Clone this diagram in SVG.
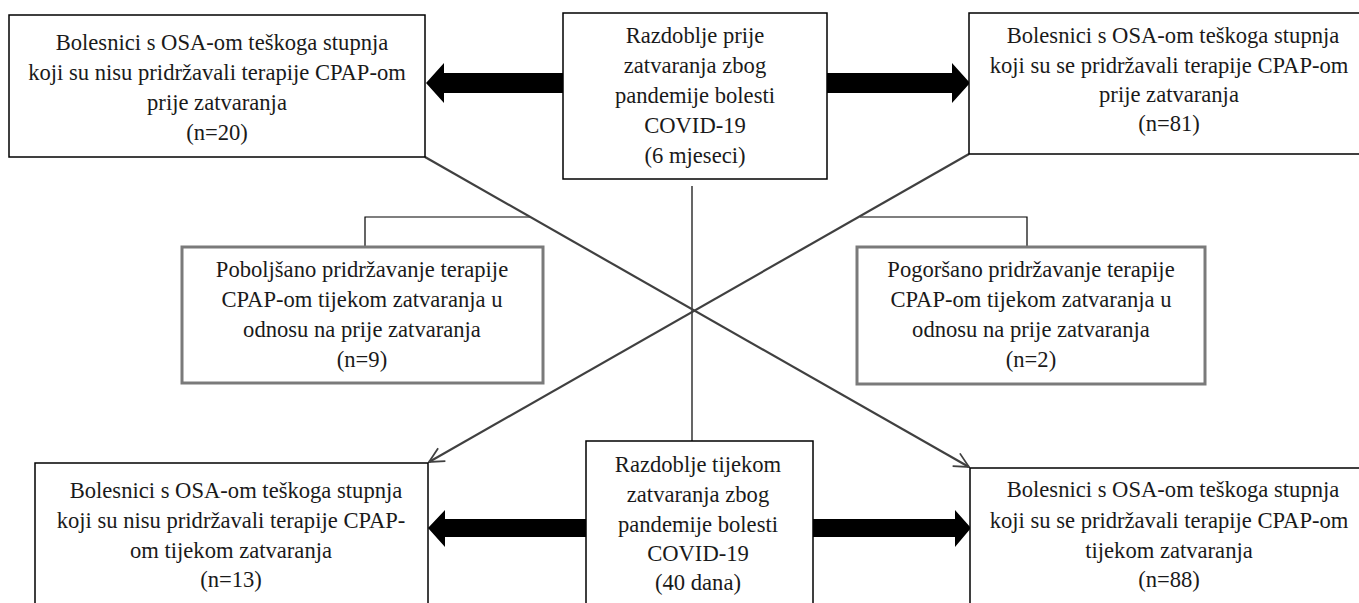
<svg xmlns="http://www.w3.org/2000/svg" width="1359" height="603" viewBox="0 0 1359 603" font-family="'Liberation Serif', 'Times New Roman', 'DejaVu Serif', serif">
<style>
.box{fill:#fff;stroke:#000;stroke-width:1.5}
.gbox{fill:#fff;stroke:#7a7a7a;stroke-width:3}
text{font-family:'Liberation Serif','Times New Roman','DejaVu Serif',serif;font-size:22.6px;fill:#1a1a1a;text-anchor:middle}
.thin{stroke:#000;stroke-width:1.2;fill:none}
.diag{stroke:#404040;stroke-width:2.2;fill:none;marker-end:url(#open)}
.thick{fill:#000}
</style>
<defs>
<marker id="open" viewBox="0 0 12 12" refX="11" refY="6" markerWidth="8" markerHeight="8" markerUnits="strokeWidth" orient="auto">
<path d="M1,1 L11,6 L1,11" fill="none" stroke="#404040" stroke-width="1.2"/>
</marker>
</defs>
<g id="connectors">
<line class="thin" x1="692" y1="186" x2="692" y2="441"/>
<polyline class="thin" points="365,247 365,217 530,217"/>
<polyline class="thin" points="1027,247 1027,217 860,217"/>
<line class="diag" x1="425" y1="157" x2="969" y2="467"/>
<line class="diag" x1="969" y1="154" x2="429" y2="462"/>
<polygon class="thick" points="563,73 444,73 444,63 426,83 444,103 444,93 563,93"/>
<polygon class="thick" points="827,73 952,73 952,63 970,83 952,103 952,93 827,93"/>
<polygon class="thick" points="586,519 445,519 445,510 428,528 445,547 445,537 586,537"/>
<polygon class="thick" points="813,519 955,519 955,510 971,528 955,547 955,537 813,537"/>
</g>
<g id="n_top_left">
<rect class="box" x="9" y="15" width="416" height="142"/>
<text x="222" y="50">Bolesnici s OSA-om teškoga stupnja</text>
<text x="217" y="80">koji su nisu pridržavali terapije CPAP-om</text>
<text x="217" y="110">prije zatvaranja</text>
<text x="217" y="140">(n=20)</text>
</g>
<g id="n_top_center">
<rect class="box" x="563" y="13" width="264" height="166"/>
<text x="695" y="43">Razdoblje prije</text>
<text x="695" y="73">zatvaranja zbog</text>
<text x="695" y="103">pandemije bolesti</text>
<text x="695" y="133">COVID-19</text>
<text x="695" y="163">(6 mjeseci)</text>
</g>
<g id="n_top_right">
<rect class="box" x="969" y="13" width="400" height="141"/>
<text x="1173" y="43">Bolesnici s OSA-om teškoga stupnja</text>
<text x="1169" y="73">koji su se pridržavali terapije CPAP-om</text>
<text x="1169" y="102">prije zatvaranja</text>
<text x="1169" y="131">(n=81)</text>
</g>
<g id="n_mid_left">
<rect class="gbox" x="182" y="247" width="361" height="136"/>
<text x="362" y="277">Poboljšano pridržavanje terapije</text>
<text x="362" y="307">CPAP-om tijekom zatvaranja u</text>
<text x="362" y="337">odnosu na prije zatvaranja</text>
<text x="362" y="367">(n=9)</text>
</g>
<g id="n_mid_right">
<rect class="gbox" x="857" y="247" width="348" height="137"/>
<text x="1031" y="277">Pogoršano pridržavanje terapije</text>
<text x="1031" y="307">CPAP-om tijekom zatvaranja u</text>
<text x="1031" y="337">odnosu na prije zatvaranja</text>
<text x="1031" y="367">(n=2)</text>
</g>
<g id="n_bottom_left">
<rect class="box" x="35" y="463" width="393" height="160"/>
<text x="236" y="498">Bolesnici s OSA-om teškoga stupnja</text>
<text x="231" y="528">koji su nisu pridržavali terapije CPAP-</text>
<text x="231" y="558">om tijekom zatvaranja</text>
<text x="231" y="587">(n=13)</text>
</g>
<g id="n_bottom_center">
<rect class="box" x="586" y="441" width="227" height="180"/>
<text x="698" y="472">Razdoblje tijekom</text>
<text x="698" y="502">zatvaranja zbog</text>
<text x="698" y="532">pandemije bolesti</text>
<text x="698" y="561">COVID-19</text>
<text x="698" y="590">(40 dana)</text>
</g>
<g id="n_bottom_right">
<rect class="box" x="970" y="468" width="400" height="160"/>
<text x="1173" y="497">Bolesnici s OSA-om teškoga stupnja</text>
<text x="1169" y="528">koji su se pridržavali terapije CPAP-om</text>
<text x="1169" y="558">tijekom zatvaranja</text>
<text x="1169" y="587">(n=88)</text>
</g>
</svg>
